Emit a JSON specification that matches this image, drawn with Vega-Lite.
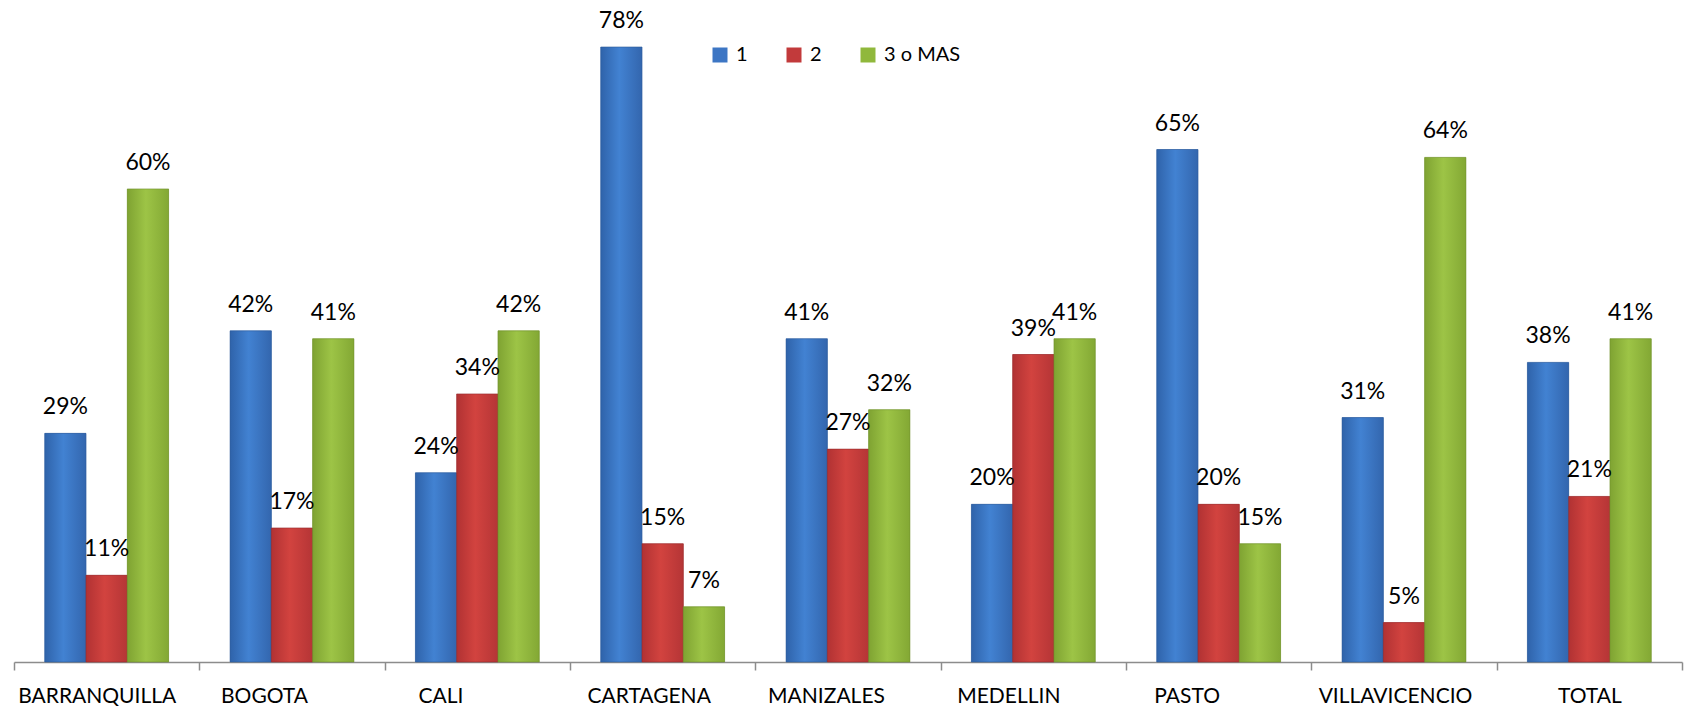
{
  "$schema": "https://vega.github.io/schema/vega-lite/v6.json",
  "width": 1668,
  "height": 615,
  "autosize": {"type": "none"},
  "padding": {"left": 14, "top": 47, "right": 3, "bottom": 46},
  "background": "white",
  "config": {"view": {"stroke": null}, "font": "Lato"},
  "data": {
    "values": [
      {"ciudad": "BARRANQUILLA", "serie": "1", "valor": 0.29},
      {"ciudad": "BARRANQUILLA", "serie": "2", "valor": 0.11},
      {"ciudad": "BARRANQUILLA", "serie": "3 o MAS", "valor": 0.60},
      {"ciudad": "BOGOTA", "serie": "1", "valor": 0.42},
      {"ciudad": "BOGOTA", "serie": "2", "valor": 0.17},
      {"ciudad": "BOGOTA", "serie": "3 o MAS", "valor": 0.41},
      {"ciudad": "CALI", "serie": "1", "valor": 0.24},
      {"ciudad": "CALI", "serie": "2", "valor": 0.34},
      {"ciudad": "CALI", "serie": "3 o MAS", "valor": 0.42},
      {"ciudad": "CARTAGENA", "serie": "1", "valor": 0.78},
      {"ciudad": "CARTAGENA", "serie": "2", "valor": 0.15},
      {"ciudad": "CARTAGENA", "serie": "3 o MAS", "valor": 0.07},
      {"ciudad": "MANIZALES", "serie": "1", "valor": 0.41},
      {"ciudad": "MANIZALES", "serie": "2", "valor": 0.27},
      {"ciudad": "MANIZALES", "serie": "3 o MAS", "valor": 0.32},
      {"ciudad": "MEDELLIN", "serie": "1", "valor": 0.20},
      {"ciudad": "MEDELLIN", "serie": "2", "valor": 0.39},
      {"ciudad": "MEDELLIN", "serie": "3 o MAS", "valor": 0.41},
      {"ciudad": "PASTO", "serie": "1", "valor": 0.65},
      {"ciudad": "PASTO", "serie": "2", "valor": 0.20},
      {"ciudad": "PASTO", "serie": "3 o MAS", "valor": 0.15},
      {"ciudad": "VILLAVICENCIO", "serie": "1", "valor": 0.31},
      {"ciudad": "VILLAVICENCIO", "serie": "2", "valor": 0.05},
      {"ciudad": "VILLAVICENCIO", "serie": "3 o MAS", "valor": 0.64},
      {"ciudad": "TOTAL", "serie": "1", "valor": 0.38},
      {"ciudad": "TOTAL", "serie": "2", "valor": 0.21},
      {"ciudad": "TOTAL", "serie": "3 o MAS", "valor": 0.41}
    ]
  },
  "encoding": {
    "x": {
      "field": "ciudad", "type": "nominal", "sort": null,
      "scale": {"paddingInner": 0, "paddingOuter": 0},
      "axis": {
        "title": null, "labelAngle": 0, "tickBand": "extent",
        "domainColor": "#8c8c8c", "domainWidth": 1.5,
        "tickColor": "#8c8c8c", "tickWidth": 1.5, "tickSize": 8,
        "labelFontSize": 21, "labelColor": "#000000", "labelPadding": 15,
        "labelFont": "Lato",
        "labelOffset": {
          "condition": [
            {"test": "datum.value == 'BARRANQUILLA'", "value": -10},
            {"test": "datum.value == 'BOGOTA'", "value": -28},
            {"test": "datum.value == 'CALI'", "value": -37},
            {"test": "datum.value == 'CARTAGENA'", "value": -14},
            {"test": "datum.value == 'MANIZALES'", "value": -22},
            {"test": "datum.value == 'MEDELLIN'", "value": -25},
            {"test": "datum.value == 'PASTO'", "value": -32},
            {"test": "datum.value == 'VILLAVICENCIO'", "value": -9}
          ],
          "value": 0
        }
      }
    },
    "xOffset": {
      "field": "serie", "type": "nominal",
      "scale": {"domain": ["1", "2", "3 o MAS"], "paddingInner": 0, "paddingOuter": 0.745}
    },
    "y": {
      "field": "valor", "type": "quantitative",
      "scale": {"domain": [0, 0.78], "nice": false},
      "axis": null
    }
  },
  "layer": [
    {
      "mark": {"type": "bar"},
      "encoding": {
        "color": {
          "field": "serie", "type": "nominal",
          "scale": {"domain": ["1", "2", "3 o MAS"], "range": ["#3d76c4", "#c23a3b", "#90b83c"]},
          "legend": {
            "title": null, "orient": "none", "direction": "horizontal",
            "legendX": 696, "legendY": -2,
            "symbolType": "square", "symbolSize": 225, "symbolStrokeWidth": 0,
            "labelFontSize": 20, "labelFont": "Lato", "labelColor": "#000000",
            "labelOffset": 6, "columnPadding": 36
          }
        }
      }
    },
    {
      "transform": [{"filter": "datum.serie == '1'"}],
      "mark": {
        "type": "bar",
        "stroke": "#2d5a98", "strokeWidth": 0.6,
        "fill": {"gradient": "linear", "x1": 0, "y1": 0, "x2": 1, "y2": 0,
          "stops": [{"offset": 0, "color": "#2f63aa"}, {"offset": 0.45, "color": "#4282d2"}, {"offset": 1, "color": "#3366ae"}]}
      }
    },
    {
      "transform": [{"filter": "datum.serie == '2'"}],
      "mark": {
        "type": "bar",
        "stroke": "#962a2b", "strokeWidth": 0.6,
        "fill": {"gradient": "linear", "x1": 0, "y1": 0, "x2": 1, "y2": 0,
          "stops": [{"offset": 0, "color": "#b13233"}, {"offset": 0.45, "color": "#d2433f"}, {"offset": 1, "color": "#b53536"}]}
      }
    },
    {
      "transform": [{"filter": "datum.serie == '3 o MAS'"}],
      "mark": {
        "type": "bar",
        "stroke": "#6f8f2b", "strokeWidth": 0.6,
        "fill": {"gradient": "linear", "x1": 0, "y1": 0, "x2": 1, "y2": 0,
          "stops": [{"offset": 0, "color": "#7fa332"}, {"offset": 0.45, "color": "#9dc446"}, {"offset": 1, "color": "#83a834"}]}
      }
    },
    {
      "mark": {"type": "text", "baseline": "alphabetic", "dy": -19, "fontSize": 23, "font": "Lato", "color": "#000000"},
      "encoding": {
        "text": {"field": "valor", "type": "quantitative", "format": ".0%"}
      }
    }
  ]
}
